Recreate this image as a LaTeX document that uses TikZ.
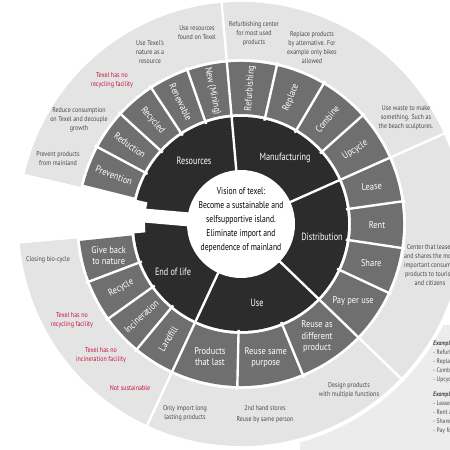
\documentclass[tikz,border=0pt]{standalone}
\usepackage{fontspec}
\setmainfont{PT Sans}[FakeStretch=0.86]
\newfontfamily\ctrfont{PT Sans}[FakeStretch=0.78]
\definecolor{outerg}{HTML}{E4E4E4}
\definecolor{midg}{HTML}{6F6F6F}
\definecolor{darkg}{HTML}{2C2C2C}
\definecolor{notegray}{HTML}{4A4A4A}
\definecolor{warnred}{HTML}{C8143C}
\definecolor{panelg}{HTML}{ECECEC}
\newcommand{\annsec}[5]{%
  \fill[#1] (#2:#4) arc[start angle=#2,end angle=#3,radius=#4] -- (#3:#5) arc[start angle=#3,end angle=#2,radius=#5] -- cycle;}
\begin{document}
\begin{tikzpicture}[x=1pt,y=1pt,
  sep/.style={white,line width=2.4pt},
  lbl/.style={text=white,font=\fontsize{9.8}{11.5}\selectfont,align=center,inner sep=0pt},
  cat/.style={text=white,font=\ctrfont\fontsize{10.5}{12}\selectfont,align=center,inner sep=0pt},
  note/.style={text=notegray,font=\fontsize{7}{9}\selectfont,align=center,inner sep=0pt},
  warn/.style={note,text=warnred},
  expl/.style={text=notegray,font=\fontsize{6.5}{9}\selectfont,align=left,anchor=north west,inner sep=0pt},
  ctr/.style={text=black,font=\ctrfont\fontsize{9.8}{14}\selectfont,align=center,inner sep=0pt}]
\useasboundingbox (0,0) rectangle (450,450);
\clip (0,0) rectangle (450,450);
% example panel (right)
\fill[panelg] (300,0) rectangle (450,125);
\begin{scope}[shift={(241,226)}]
  \fill[white] (0,0) circle[radius=226];
  % rings
  \annsec{outerg}{-175}{167}{165}{222}
  \annsec{midg}{-174}{166}{110}{162}
  \fill[darkg] (0,0) circle[radius=107];
  \fill[white] (0,0) circle[radius=54];
  % keyhole
  \fill[white] (167:96) arc[start angle=167,end angle=185,radius=96] -- (185:230) -- (167:230) -- cycle;
  \begin{scope}[rotate=175]
    \fill[white,rounded corners=2pt] (45,-7) rectangle (100,7);
  \end{scope}
  % main separators
  \foreach \a in {95,24,-44,-115} \draw[sep] (\a:50) -- (\a:226);
  % sub separators
  \foreach \a in {109.2,123.4,137.6,151.8,77.25,59.5,41.75,8,-8.5,-25,-67.7,-91.3,-129.75,-144.5,-159.25}
    \draw[sep] (\a:106) -- (\a:166);
  % category labels
  \node[ctr] (vision) at (0,4) {Vision of texel:\\Become a sustainable and\\selfsupportive island.\\Eliminate import and\\dependence of mainland};
  \node[cat] (resources) at (-47,63) {Resources};
  \node[cat] (manufacturing) at (44,66) {Manufacturing};
  \node[cat] (distribution) at (81,-13) {Distribution};
  \node[cat] (use) at (16,-79) {Use};
  \node[cat] (endoflife) at (-68,-48) {End of life};
  % middle ring labels
  \node[lbl,rotate=-21] (prevention) at (159:136) {Prevention};
  \node[lbl,rotate=-35.3] (reduction) at (144.7:136) {Reduction};
  \node[lbl,rotate=-49.5] (recycled) at (130.5:136) {Recycled};
  \node[lbl,rotate=-63.7] (renewable) at (116.3:136) {Renewable};
  \node[lbl,rotate=-77.9] (newmining) at (102.1:136) {New (Mining)};
  \node[lbl,rotate=86.1] (refurbishing) at (86.1:136) {Refurbishing};
  \node[lbl,rotate=68.4] (replace) at (68.4:136) {Replace};
  \node[lbl,rotate=50.6] (combine) at (50.6:136) {Combine};
  \node[lbl,rotate=32.9] (upcycle) at (32.9:136) {Upcycle};
  \node[lbl,rotate=5] (lease) at (16:136) {Lease};
  \node[lbl] (rent) at (-0.25:136) {Rent};
  \node[lbl] (share) at (-16.75:136) {Share};
  \node[lbl] (payperuse) at (-34.5:136) {Pay per use};
  \node[lbl] (reusediff) at (-56:136) {Reuse as\\different\\product};
  \node[lbl] (reusesame) at (-79.5:136) {Reuse same\\purpose};
  \node[lbl] (productslast) at (-103.2:136) {Products\\that last};
  \node[lbl,rotate=57.6] (landfill) at (-122.4:136) {Landfill};
  \node[lbl,rotate=42.9] (incineration) at (-137.1:136) {Incineration};
  \node[lbl,rotate=28.1] (recycle) at (-151.9:136) {Recycle};
  \node[lbl] (giveback) at (-166.6:136) {Give back\\to nature};
\end{scope}
% outer notes (image coordinates: y = 450 - py)
\node[note] (n1) at (197,417) {Use resources\\found on Texel};
\node[note] (n2) at (150,398) {Use Texel's\\nature as a\\resource};
\node[warn] (n3) at (112,370) {Texel has no\\recycling facility};
\node[note] (n4) at (79,330) {Reduce consumption\\on Texel and decouple\\growth};
\node[note] (n5) at (58,291) {Prevent products\\from mainland};
\node[note] (n6) at (254,416) {Refurbishing center\\for most used\\products};
\node[note] (n7) at (312,402) {Replace products\\by alternative. For\\example only bikes\\allowed};
\node[note] (n8) at (406,332) {Use waste to make\\something. Such as\\the beach sculptures.};
\node[note] (n9) at (430,185) {Center that leases\\and shares the most\\important consumer\\products to tourists\\and citizens};
\node[note] (n10) at (48,190) {Closing bio-cycle};
\node[warn] (n11) at (72,130) {Texel has no\\recycling facility};
\node[warn] (n12) at (101,95) {Texel has no\\incineration facility};
\node[warn] (n13) at (130,62) {Not sustainable};
\node[note] (n14) at (185,37) {Only import long\\lasting products};
\node[note,font=\fontsize{7}{11}\selectfont] (n15) at (265,36) {2nd hand stores\\Reuse by same person};
\node[note] (n16) at (349,60) {Design products\\with multiple functions};
\node[expl] (ex1) at (433,109) {\textit{\textbf{Example manufacturing:}}\\- Refurbishing\\- Replace\\- Combine\\- Upcycle};
\node[expl] (ex2) at (433,58) {\textit{\textbf{Example distribution:}}\\- Lease\\- Rent a bike\\- Share\\- Pay for use};
\end{tikzpicture}
\end{document}
